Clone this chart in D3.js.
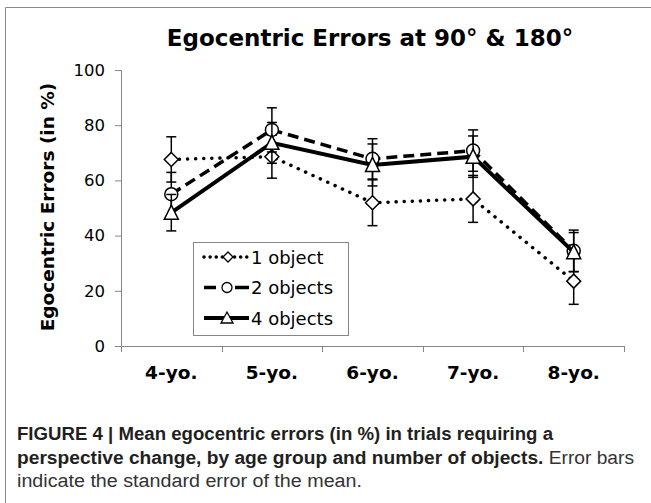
<!DOCTYPE html>
<html>
<head>
<meta charset="utf-8">
<script src="https://cdn.jsdelivr.net/npm/d3@7"></script>
<style>
body{margin:0;background:#fff;}
svg{display:block;}
</style>
</head>
<body>
<script>
var w=651,h=503;
var ages=['4-yo.','5-yo.','6-yo.','7-yo.','8-yo.'];
var obj1=[67.6,68.6,51.9,53.3,23.5];
var obj1Err=[8.2,7.8,8.3,8.5,8.4];
var obj2=[55.0,78.3,67.8,70.8,34.5];
var obj2Err=[7.9,8.0,7.3,7.5,7.5];
var obj4=[48.3,73.6,65.6,68.6,34.0];
var obj4Err=[6.6,7.4,7.6,7.5,7.1];
var yTicks=[0,20,40,60,80,100];

var svg=d3.select('body').append('svg').attr('width',w).attr('height',h);

// frame around the figure (cropped at right and bottom)
svg.append('path').attr('d','M5.5,503V7.5H651').attr('fill','none').attr('stroke','#8a8a8a').attr('stroke-width',1);

var x=d3.scaleBand().domain(ages).range([121,624]);
var y=d3.scaleLinear().domain([0,100]).range([346,70]);
var axisCol='#868686';

// title
svg.append('text').attr('x',370).attr('y',46).attr('text-anchor','middle')
  .style('font-family','DejaVu Sans').style('font-weight','bold').style('font-size','23px')
  .text('Egocentric Errors at 90° & 180°');

// y axis
var ya=svg.append('g').attr('transform','translate(121,0)')
  .call(d3.axisLeft(y).tickValues(yTicks).tickSize(6).tickPadding(10));
ya.select('.domain').attr('stroke',axisCol);
ya.selectAll('.tick line').attr('stroke',axisCol);
ya.selectAll('.tick text').style('font-family','DejaVu Sans').style('font-size','16.5px').attr('fill','#000');

// x axis
svg.append('line').attr('x1',121).attr('x2',624).attr('y1',346.5).attr('y2',346.5).attr('stroke',axisCol);
var bounds=ages.map(function(d){return x(d);}).concat([x.range()[1]]);
svg.selectAll('.xtick').data(bounds).enter().append('line').attr('class','xtick')
  .attr('x1',function(d){return Math.round(d)+0.5;}).attr('x2',function(d){return Math.round(d)+0.5;})
  .attr('y1',346).attr('y2',352).attr('stroke',axisCol);
svg.selectAll('.xlab').data(ages).enter().append('text').attr('class','xlab')
  .attr('x',function(d){return x(d)+x.bandwidth()/2;}).attr('y',379).attr('text-anchor','middle')
  .style('font-family','DejaVu Sans').style('font-weight','bold').style('font-size','18.5px')
  .text(function(d){return d;});

// y axis title
svg.append('text').attr('transform','translate(54,207) rotate(-90)').attr('text-anchor','middle')
  .style('font-family','DejaVu Sans').style('font-weight','bold').style('font-size','18.5px')
  .text('Egocentric Errors (in %)');

var series=[
  {name:'1 object',vals:obj1,err:obj1Err,dash:'0.1 8',legDash:'0.1 6',cap:'round',sw:3.5,marker:'diamond'},
  {name:'2 objects',vals:obj2,err:obj2Err,dash:'11 6',legDash:'12 19 14',cap:'butt',sw:3.5,marker:'circle'},
  {name:'4 objects',vals:obj4,err:obj4Err,dash:null,legDash:null,cap:'butt',sw:4,marker:'triangle'}
];

function marker(g,type,cx,cy){
  if(type==='diamond'){
    g.append('path').attr('d','M'+cx+','+(cy-7)+'L'+(cx+7)+','+cy+'L'+cx+','+(cy+7)+'L'+(cx-7)+','+cy+'Z');
  }else if(type==='circle'){
    g.append('circle').attr('cx',cx).attr('cy',cy).attr('r',6.5);
  }else{
    g.append('path').attr('d','M'+cx+','+(cy-7.5)+'L'+(cx+7)+','+(cy+6.5)+'L'+(cx-7)+','+(cy+6.5)+'Z');
  }
}

var cx=function(i){return x(ages[i])+x.bandwidth()/2;};
var line=d3.line().x(function(d,i){return cx(i);}).y(function(d){return y(d);});

series.forEach(function(s){
  var g=svg.append('g');
  // error bars
  s.vals.forEach(function(v,i){
    var lo=y(v-s.err[i]),hi=y(v+s.err[i]),px=cx(i);
    g.append('line').attr('x1',px).attr('x2',px).attr('y1',lo).attr('y2',hi).attr('stroke','#000').attr('stroke-width',1.5);
    [lo,hi].forEach(function(yy){
      g.append('line').attr('x1',px-5).attr('x2',px+5).attr('y1',yy).attr('y2',yy).attr('stroke','#000').attr('stroke-width',1.5);
    });
  });
  g.append('path').datum(s.vals).attr('d',line).attr('fill','none').attr('stroke','#000')
    .attr('stroke-width',s.sw).attr('stroke-dasharray',s.dash).attr('stroke-linecap',s.cap);
  var mg=g.append('g').attr('fill','#fff').attr('stroke','#000').attr('stroke-width',1.5);
  s.vals.forEach(function(v,i){marker(mg,s.marker,cx(i),y(v));});
});

// legend
var lg=svg.append('g');
lg.append('rect').attr('x',193.5).attr('y',242.5).attr('width',155).attr('height',93)
  .attr('fill','#fff').attr('stroke',axisCol);
series.forEach(function(s,i){
  var ly=257+i*30.5;
  lg.append('line').attr('x1',204).attr('x2',249).attr('y1',ly).attr('y2',ly).attr('stroke','#000')
    .attr('stroke-width',s.sw).attr('stroke-dasharray',s.legDash).attr('stroke-linecap',s.cap);
  var mg=lg.append('g').attr('fill','#fff').attr('stroke','#000').attr('stroke-width',1.3);
  if(s.marker==='diamond'){
    mg.append('path').attr('d','M228,'+(ly-5)+'L233,'+ly+'L228,'+(ly+5)+'L223,'+ly+'Z');
  }else if(s.marker==='circle'){
    mg.append('circle').attr('cx',227).attr('cy',ly).attr('r',5);
  }else{
    mg.append('path').attr('d','M227,'+(ly-6)+'L233,'+(ly+5)+'L221,'+(ly+5)+'Z');
  }
  lg.append('text').attr('x',251).attr('y',ly+6.5)
    .style('font-family','DejaVu Sans').style('font-size','18px').text(s.name);
});

// caption
var cap=svg.append('g').style('font-family','Liberation Sans Narrow, Liberation Sans, Arial').style('font-size','18px').attr('fill','#231f20');
cap.append('text').attr('x',17).attr('y',440).attr('textLength',536).attr('lengthAdjust','spacingAndGlyphs')
  .style('font-weight','bold').text('FIGURE 4 | Mean egocentric errors (in %) in trials requiring a');
var l2=cap.append('text').attr('x',17).attr('y',464).attr('textLength',617).attr('lengthAdjust','spacingAndGlyphs');
l2.append('tspan').style('font-weight','bold').text('perspective change, by age group and number of objects.');
l2.append('tspan').attr('fill','#333').text(' Error bars');
cap.append('text').attr('x',17).attr('y',487).attr('textLength',345).attr('lengthAdjust','spacingAndGlyphs')
  .attr('fill','#333').text('indicate the standard error of the mean.');
</script>
</body>
</html>
